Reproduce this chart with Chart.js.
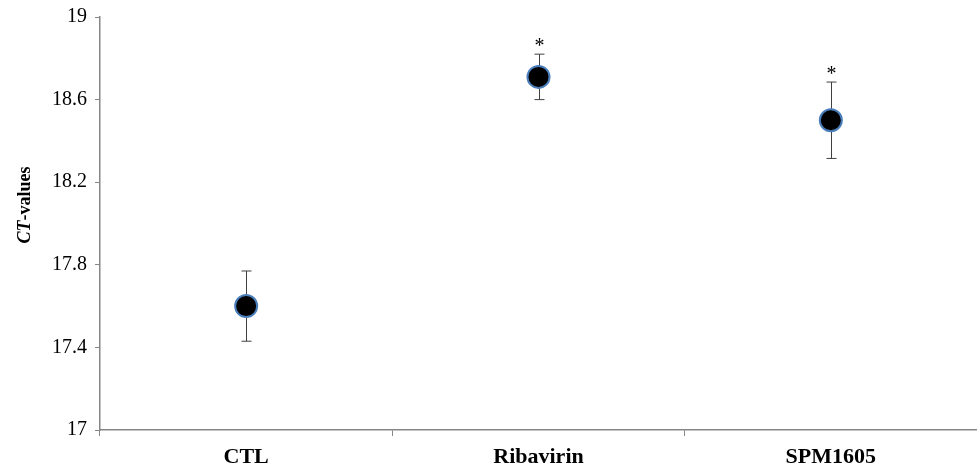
<!DOCTYPE html>
<html>
<head>
<meta charset="utf-8">
<script src="https://cdn.jsdelivr.net/npm/chart.js@4"></script>
<style>
  html, body { margin: 0; padding: 0; background: #fff; }
  #wrap { width: 977px; height: 473px; }
</style>
</head>
<body>
<div id="wrap"><canvas id="ctChart"></canvas></div>
<script>
// data
const groups = ['CTL', 'Ribavirin', 'SPM1605'];
const ctMeans = [17.6, 18.71, 18.5];
const ctErrors = [0.17, 0.11, 0.185];
const significant = [false, true, true];
const yTicks = [17, 17.4, 17.8, 18.2, 18.6, 19];

const serif = '"Liberation Serif", "DejaVu Serif", serif';
const axisGrey = '#868686';

// error bars + asterisks, drawn behind the markers
const errorBars = {
    id: 'errorBars',
    beforeDatasetsDraw(chart) {
        const ctx = chart.ctx;
        const xs = chart.scales.x, ys = chart.scales.y;
        ctx.save();
        ctx.strokeStyle = '#404040';
        ctx.lineWidth = 1;
        ctMeans.forEach((m, i) => {
            const x = Math.round(xs.getPixelForValue(i)) + 0.5;
            const top = ys.getPixelForValue(m + ctErrors[i]);
            const bot = ys.getPixelForValue(m - ctErrors[i]);
            ctx.beginPath();
            ctx.moveTo(x, top); ctx.lineTo(x, bot);
            ctx.moveTo(x - 5, top); ctx.lineTo(x + 5, top);
            ctx.moveTo(x - 5, bot); ctx.lineTo(x + 5, bot);
            ctx.stroke();
            if (significant[i]) {
                ctx.fillStyle = '#000';
                ctx.font = '20px ' + serif;
                ctx.textAlign = 'center';
                ctx.textBaseline = 'alphabetic';
                ctx.fillText('*', x, top - 2);
            }
        });
        ctx.restore();
    },
    afterDraw(chart) {
        // y axis title with italic "CT"
        const ctx = chart.ctx;
        ctx.save();
        ctx.translate(25, 205);
        ctx.rotate(-Math.PI / 2);
        ctx.fillStyle = '#000';
        ctx.textBaseline = 'middle';
        const f1 = 'italic bold 18px ' + serif;
        const f2 = 'bold 18px ' + serif;
        ctx.font = f1;
        const w1 = ctx.measureText('CT').width;
        ctx.font = f2;
        const w2 = ctx.measureText('-values').width;
        let x0 = -(w1 + w2) / 2;
        ctx.textAlign = 'left';
        ctx.font = f1;
        ctx.fillText('CT', x0, 0);
        ctx.font = f2;
        ctx.fillText('-values', x0 + w1, 0);
        ctx.restore();
    }
};

new Chart(document.getElementById('ctChart'), {
    type: 'line',
    data: {
        labels: groups,
        datasets: [{
            data: ctMeans,
            showLine: false,
            pointRadius: 11,
            pointHoverRadius: 11,
            pointBorderWidth: 2,
            pointBackgroundColor: '#000',
            pointBorderColor: '#4A7EBB'
        }]
    },
    options: {
        responsive: true,
        maintainAspectRatio: false,
        animation: false,
        layout: { autoPadding: false, padding: { top: 17, right: 0, left: 0, bottom: 0 } },
        plugins: { legend: { display: false }, tooltip: { enabled: false } },
        scales: {
            x: {
                offset: true,
                grid: { offset: true, drawOnChartArea: false, tickLength: 6, color: axisGrey },
                border: { color: axisGrey, width: 1.5 },
                ticks: { color: '#000', font: { family: serif, size: 22, weight: 'bold' }, padding: 8 },
                afterFit(scale) {
                    scale.height = 43;
                    scale.paddingLeft = 0;
                    scale.paddingRight = 0;
                }
            },
            y: {
                min: 17,
                max: 19,
                afterBuildTicks(scale) { scale.ticks = yTicks.map(v => ({ value: v })); },
                grid: { drawOnChartArea: false, tickLength: 5, color: axisGrey },
                border: { color: axisGrey, width: 1.5 },
                ticks: {
                    color: '#000',
                    font: { family: serif, size: 20 },
                    padding: 8,
                    callback: v => parseFloat(v.toFixed(1))
                },
                afterFit(scale) {
                    scale.width = 100;
                    scale.paddingTop = 0;
                    scale.paddingBottom = 0;
                }
            }
        }
    },
    plugins: [errorBars]
});
</script>
</body>
</html>
